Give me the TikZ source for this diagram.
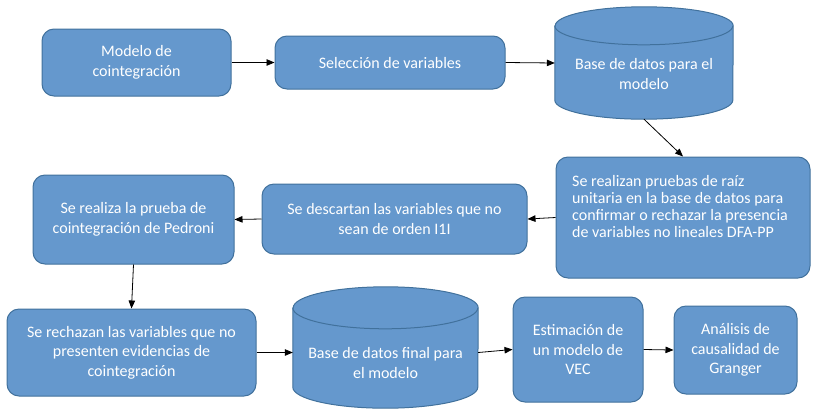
\documentclass[tikz,border=0pt]{standalone}
\usepackage{fontspec}
\setmainfont{Carlito}
\usetikzlibrary{arrows.meta}
\definecolor{boxfill}{RGB}{101,152,205}
\definecolor{boxline}{RGB}{65,113,156}
\begin{document}
\begin{tikzpicture}[x=1pt,y=1pt,
  box/.style={draw=boxline, fill=boxfill, line width=1pt, rounded corners=12pt,
    inner sep=0pt, text=white, align=center, font=\fontsize{16}{19.5}\selectfont},
  cylarea/.style={inner sep=0pt},
  cylbody/.style={draw=boxline, fill=boxfill, line width=1pt},
  cylrim/.style={draw=boxline, line width=1pt},
  txt/.style={inner sep=0pt, text=white, align=center, font=\fontsize{16}{19.5}\selectfont},
  arr/.style={-{Triangle[length=8pt,width=6.5pt]}, line width=0.8pt, draw=black}]
\useasboundingbox (0,0) rectangle (813,-413);

% boxes
\node[box, minimum width=189pt, minimum height=67pt] (m1) at (136.5,-62.5) {Modelo de\\cointegración};
\node[box, minimum width=230pt, minimum height=53pt] (m2) at (390,-62.5) {Selección de variables};
\node[box, minimum width=254pt, minimum height=121pt] (b4) at (683,-217.5) {};
\node[txt, align=left, anchor=north west, font=\fontsize{16}{17}\selectfont] (b4txt) at (572,-175)
  {Se realizan pruebas de raíz\\unitaria en la base de datos para\\confirmar o rechazar la presencia\\de variables no lineales DFA-PP};
\node[box, minimum width=265pt, minimum height=70pt] (desc) at (394.5,-219) {Se descartan las variables que no\\sean de orden I1I};
\node[box, minimum width=201pt, minimum height=89pt] (ped) at (133.5,-219.5) {Se realiza la prueba de\\cointegración de Pedroni};
\node[box, minimum width=249pt, minimum height=87pt] (rech) at (131.5,-352.5) {Se rechazan las variables que no\\presenten evidencias de\\cointegración};
\node[box, minimum width=130pt, minimum height=105pt] (est) at (578,-349.5) {Estimación de\\un modelo de\\VEC};
\node[box, minimum width=123pt, minimum height=88pt] (ana) at (735.5,-350) {Análisis de\\causalidad de\\Granger};

% cylinders
\node[cylarea, minimum width=178pt, minimum height=112pt] (cyl1) at (644,-63) {};
\path[cylbody] ([yshift=-19pt]cyl1.north west) -- ([yshift=19pt]cyl1.south west)
  arc[start angle=180, end angle=360, x radius=89pt, y radius=19pt]
  -- ([yshift=-19pt]cyl1.north east)
  arc[start angle=0, end angle=180, x radius=89pt, y radius=19pt] -- cycle;
\draw[cylrim] ([yshift=-19pt]cyl1.north west) arc[start angle=180, end angle=360, x radius=89pt, y radius=19pt];
\node[txt] (cyl1txt) at (644,-74) {Base de datos para el\\modelo};

\node[cylarea, minimum width=185pt, minimum height=121pt] (cyl2) at (385.5,-347.5) {};
\path[cylbody] ([yshift=-21pt]cyl2.north west) -- ([yshift=21pt]cyl2.south west)
  arc[start angle=180, end angle=360, x radius=92.5pt, y radius=21pt]
  -- ([yshift=-21pt]cyl2.north east)
  arc[start angle=0, end angle=180, x radius=92.5pt, y radius=21pt] -- cycle;
\draw[cylrim] ([yshift=-21pt]cyl2.north west) arc[start angle=180, end angle=360, x radius=92.5pt, y radius=21pt];
\node[txt] (cyl2txt) at (385.5,-363) {Base de datos final para\\el modelo};

% connectors
\draw[arr] (m1) -- (m2);
\draw[arr] (m2.east) -- (cyl1.west);
\draw[arr] (cyl1.south) -- (b4.north);
\draw[arr] (b4.west) -- (desc.east);
\draw[arr] (desc.west) -- (ped.east);
\draw[arr] (ped.south) -- (rech.north);
\draw[arr] (rech.east) -- (rech.east -| cyl2.west);
\draw[arr] (rech.east -| cyl2.east) -- (est.west);
\draw[arr] (est.east) -- (ana.west);
\end{tikzpicture}
\end{document}
